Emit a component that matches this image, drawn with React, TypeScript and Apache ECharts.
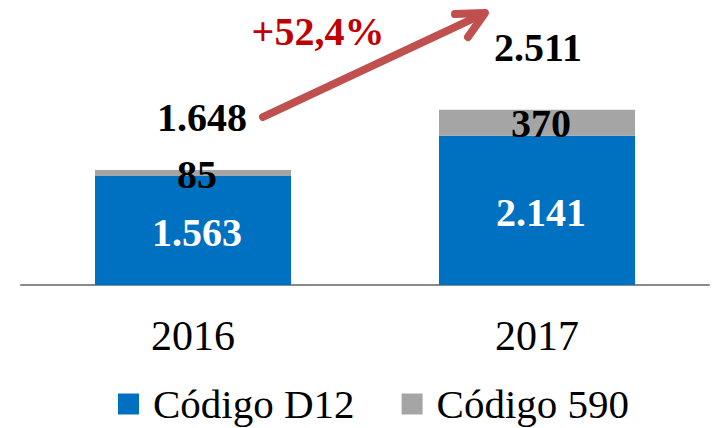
import React, { useEffect, useRef } from "react";
import * as echarts from "echarts";

const categories = ["2016", "2017"];
const d12Values = [1563, 2141];
const c590Values = [85, 370];
const totals = [1648, 2511];
const growthLabel = "+52,4%";
const seriesNames = ["Código D12", "Código 590"];

const FONT = '"Liberation Serif", "Times New Roman", serif';
const fmt = (v: number) => v.toLocaleString("de-DE");

export default function App() {
  const ref = useRef<HTMLDivElement>(null);
  useEffect(() => {
    if (!ref.current) return;
    const chart = echarts.init(ref.current, null, { renderer: "svg" });
    const totalOffsets = [
      [9, -33],
      [1, -42],
    ];
    chart.setOption({
      animation: false,
      grid: { left: 21, right: 3, top: 6, bottom: 143 },
      xAxis: {
        type: "category",
        data: categories,
        axisLine: { lineStyle: { color: "#898989", width: 2 } },
        axisTick: { show: false },
        axisLabel: { fontFamily: FONT, fontSize: 42, color: "#000", margin: 30 },
      },
      yAxis: {
        type: "value",
        min: 0,
        max: 4000,
        show: false,
        splitLine: { show: false },
      },
      legend: {
        left: 113,
        top: 378,
        itemWidth: 21,
        itemHeight: 21,
        itemGap: 47,
        icon: "rect",
        textStyle: {
          fontFamily: FONT,
          fontSize: 41,
          lineHeight: 42,
          color: "#000",
          padding: [0, 0, 0, 9],
        },
        data: seriesNames,
      },
      series: [
        {
          name: seriesNames[0],
          type: "bar",
          stack: "t",
          barWidth: 196,
          barGap: "-100%",
          data: d12Values,
          itemStyle: { color: "#0070C0" },
          label: {
            show: true,
            position: "inside",
            offset: [4, 2],
            formatter: (p: any) => fmt(p.value),
            fontFamily: FONT,
            fontSize: 40,
            fontWeight: "bold",
            color: "#ffffff",
          },
        },
        {
          name: seriesNames[1],
          type: "bar",
          stack: "t",
          barWidth: 196,
          barGap: "-100%",
          data: c590Values,
          itemStyle: { color: "#A5A5A5" },
          label: {
            show: true,
            position: "inside",
            offset: [4, 1],
            formatter: (p: any) => fmt(p.value),
            fontFamily: FONT,
            fontSize: 40,
            fontWeight: "bold",
            color: "#000000",
          },
        },
        {
          name: "total",
          type: "bar",
          barWidth: 196,
          barGap: "-100%",
          z: 5,
          silent: true,
          itemStyle: { color: "rgba(0,0,0,0)" },
          data: totals.map((v, i) => ({
            value: v,
            label: { offset: totalOffsets[i] },
          })),
          label: {
            show: true,
            position: "top",
            distance: 0,
            formatter: (p: any) => fmt(p.value),
            fontFamily: FONT,
            fontSize: 40,
            fontWeight: "bold",
            color: "#000000",
          },
        },
      ],
      graphic: [
        {
          type: "line",
          shape: { x1: 263, y1: 117, x2: 483, y2: 14 },
          style: { stroke: "#C0504D", lineWidth: 8, lineCap: "round" },
        },
        {
          type: "polyline",
          shape: { points: [[455, 14], [485, 13], [468, 37]] },
          style: { stroke: "#C0504D", lineWidth: 8, lineCap: "round", lineJoin: "round", fill: null },
        },
        {
          type: "text",
          x: 318,
          y: 31,
          style: {
            text: growthLabel,
            fontFamily: FONT,
            fontSize: 40,
            fontWeight: "bold",
            fill: "#C00000",
            align: "center",
            verticalAlign: "middle",
          },
        },
      ],
    });
    return () => chart.dispose();
  }, []);
  return <div ref={ref} style={{ width: 712, height: 428, position: "absolute", left: 0, top: 0 }} />;
}
